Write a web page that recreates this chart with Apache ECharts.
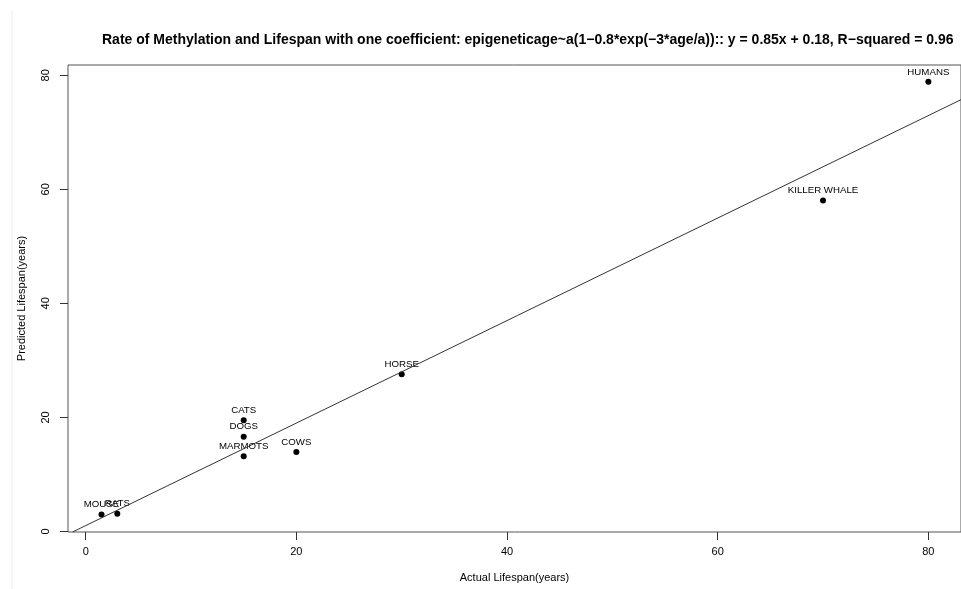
<!DOCTYPE html>
<html>
<head>
<meta charset="utf-8">
<title>Rate of Methylation and Lifespan</title>
<script src="https://cdn.jsdelivr.net/npm/echarts@6/dist/echarts.min.js"></script>
<style>
  html, body { margin: 0; padding: 0; background: #fff; }
  #chart { width: 961px; height: 589px; }
</style>
</head>
<body>
<div id="chart"></div>
<script>
// species and their actual / predicted lifespan (years)
var species = ['MOUSE', 'RATS', 'CATS', 'DOGS', 'MARMOTS', 'COWS', 'HORSE', 'KILLER WHALE', 'HUMANS']
var actualLifespan = [1.5, 3, 15, 15, 15, 20, 30, 70, 80]
var predictedLifespan = [2.95, 3.1, 19.5, 16.6, 13.2, 13.95, 27.55, 58.05, 78.85]

// fitted line as drawn (two end points, clipped by the plot box)
var fitX = [-1.25, 83.3]
var fitY = [-0.1, 75.9]

// tick labels
var xTicks = [0, 20, 40, 60, 80]
var yTicks = [0, 20, 40, 60, 80]

var chart = echarts.init(document.getElementById('chart'))

var points = species.map(function(name, i) {
  return { name: name, value: [actualLifespan[i], predictedLifespan[i]] }
})
var fitLine = fitX.map(function(x, i) { return [x, fitY[i]] })

var font = 'Liberation Sans, Arial, Helvetica, sans-serif'

chart.setOption({
  backgroundColor: '#fff',
  animation: false,
  title: {
    text: 'Rate of Methylation and Lifespan with one coefficient: epigeneticage~a(1\u22120.8*exp(\u22123*age/a)):: y = 0.85x + 0.18, R\u2212squared = 0.96',
    left: 97,
    top: 28,
    textStyle: { fontFamily: font, fontSize: 14, fontWeight: 'bold', color: '#000' }
  },
  grid: {
    left: 68,
    top: 65,
    right: -3,
    bottom: 57,
    show: true,
    borderColor: '#555',
    borderWidth: 1
  },
  xAxis: {
    type: 'value',
    min: -1.68,
    max: 83.1,
    name: 'Actual Lifespan(years)',
    nameLocation: 'middle',
    nameGap: 40,
    nameTextStyle: { fontFamily: font, fontSize: 11, color: '#000' },
    axisLine: { show: false, onZero: false },
    axisTick: { show: true, length: 8, customValues: xTicks, lineStyle: { color: '#333' } },
    axisLabel: { customValues: xTicks, margin: 14, fontFamily: font, fontSize: 11, color: '#000' },
    splitLine: { show: false }
  },
  yAxis: {
    type: 'value',
    min: -0.1,
    max: 81.8,
    name: 'Predicted Lifespan(years)',
    nameLocation: 'middle',
    nameGap: 41,
    nameTextStyle: { fontFamily: font, fontSize: 11, color: '#000' },
    axisLine: { show: false, onZero: false },
    axisTick: { show: true, length: 8, customValues: yTicks, lineStyle: { color: '#333' } },
    axisLabel: { customValues: yTicks, rotate: 90, margin: 17, fontFamily: font, fontSize: 11, color: '#000' },
    splitLine: { show: false }
  },
  graphic: [
    { type: 'line', shape: { x1: 12, y1: 10, x2: 12, y2: 589 }, style: { stroke: '#ececec', lineWidth: 1 } }
  ],
  series: [
    {
      type: 'line',
      data: fitLine,
      symbol: 'none',
      clip: true,
      lineStyle: { color: '#333', width: 1 }
    },
    {
      type: 'scatter',
      data: points,
      symbol: 'circle',
      symbolSize: 6,
      itemStyle: { color: '#000', opacity: 1 },
      label: {
        show: true,
        position: 'top',
        distance: 2,
        formatter: '{b}',
        fontFamily: font,
        fontSize: 9.7,
        color: '#000'
      }
    }
  ]
})
</script>
</body>
</html>
